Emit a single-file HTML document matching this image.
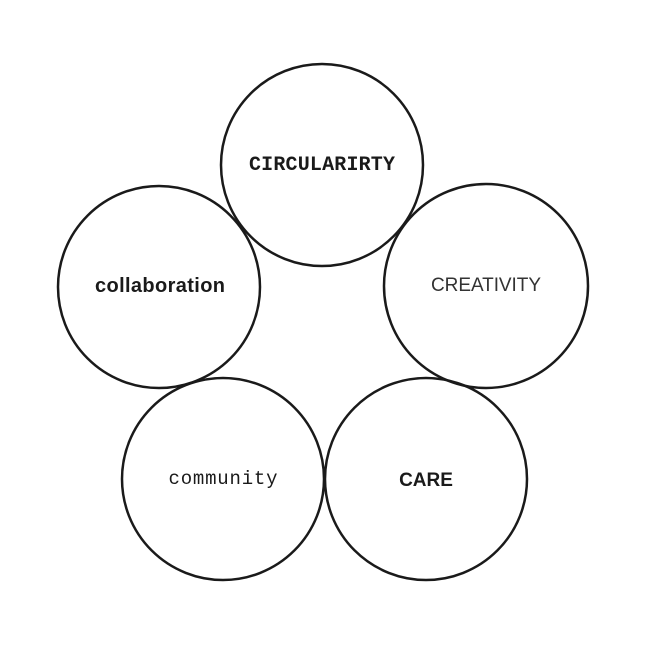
<!DOCTYPE html>
<html><head><meta charset="utf-8"><style>
html,body{margin:0;padding:0;background:#fff;width:646px;height:646px;overflow:hidden}
</style></head><body>
<svg width="646" height="646" viewBox="0 0 646 646" xmlns="http://www.w3.org/2000/svg">
<g fill="none" stroke="#1a1a1a" stroke-width="2.5">
<circle cx="322" cy="165" r="101"/>
<circle cx="486" cy="286" r="102"/>
<circle cx="159" cy="287" r="101"/>
<circle cx="223" cy="479" r="101"/>
<circle cx="426" cy="479" r="101"/>
</g>
<g fill="#1a1a1a" text-anchor="middle">
<text x="322" y="170" font-family="Liberation Mono, monospace" font-weight="bold" font-size="20" textLength="146">CIRCULARIRTY</text>
<text x="486" y="291" font-family="Liberation Sans, sans-serif" font-size="19" fill="#333" textLength="110">CREATIVITY</text>
<text x="160" y="292" font-family="Liberation Sans, sans-serif" font-weight="bold" font-size="20" textLength="130">collaboration</text>
<text x="223" y="484" font-family="Liberation Mono, monospace" font-size="19" textLength="109">community</text>
<text x="426" y="486" font-family="Liberation Sans, sans-serif" font-size="19" font-weight="bold">CARE</text>
</g>
</svg>
</body></html>
